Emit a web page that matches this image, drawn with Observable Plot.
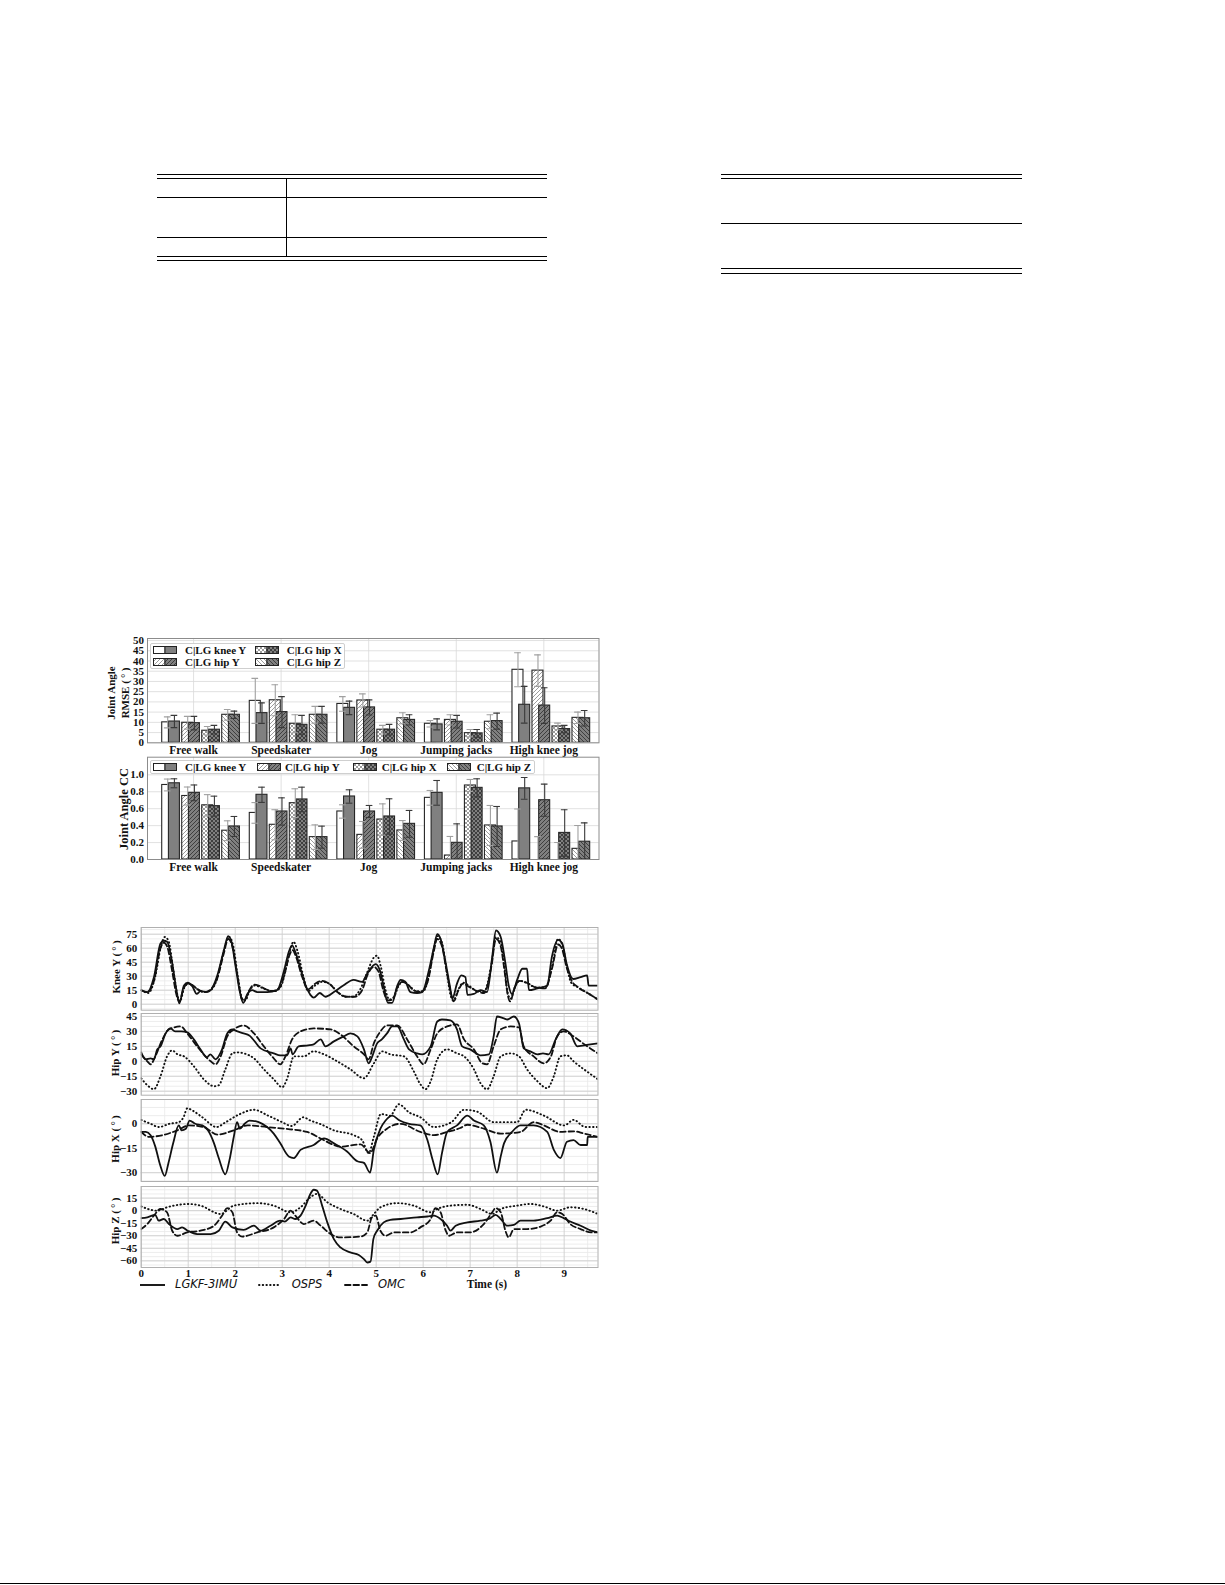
<!DOCTYPE html>
<html><head><meta charset="utf-8">
<script src="https://cdn.jsdelivr.net/npm/d3@7"></script>
<script src="https://cdn.jsdelivr.net/npm/@observablehq/plot@0.6"></script>
<style>
body{margin:0;background:#fff;}
#page{position:relative;width:1225px;height:1585px;overflow:hidden;background:#fff;font-family:'Liberation Serif',serif;}
.hl{position:absolute;height:0;border-top:1.3px solid #000;}
.vl{position:absolute;width:0;border-left:1.3px solid #000;}
.ylab{position:absolute;transform:translate(-50%,-50%) rotate(-90deg);white-space:nowrap;font-weight:bold;font-size:11px;font-family:'Liberation Serif',serif;color:#111;line-height:1;}
.leg{position:absolute;background:#fff;border:1px solid #cfcfcf;border-radius:2px;box-sizing:border-box;}
.legtxt{position:absolute;font-weight:bold;font-size:11px;white-space:nowrap;transform:translateY(-50%);line-height:1;font-family:'Liberation Serif',serif;color:#111;}
.tslegtxt{position:absolute;font-style:oblique;font-size:11.5px;white-space:nowrap;transform:translateY(-50%);line-height:1;font-family:'DejaVu Sans',sans-serif;color:#111;}
</style>
</head><body>
<svg width="0" height="0" style="position:absolute"><defs id="pdefs"></defs></svg>
<div id="page">
  <!-- table 1 -->
  <div class="hl" style="left:157px;width:390px;top:174px"></div>
  <div class="hl" style="left:157px;width:390px;top:178px"></div>
  <div class="hl" style="left:157px;width:390px;top:197px"></div>
  <div class="hl" style="left:157px;width:390px;top:237px"></div>
  <div class="hl" style="left:157px;width:390px;top:256px"></div>
  <div class="hl" style="left:157px;width:390px;top:260px"></div>
  <div class="vl" style="left:286px;top:178px;height:78px"></div>
  <!-- table 2 -->
  <div class="hl" style="left:721px;width:301px;top:174px"></div>
  <div class="hl" style="left:721px;width:301px;top:178px"></div>
  <div class="hl" style="left:721px;width:301px;top:222.5px"></div>
  <div class="hl" style="left:721px;width:301px;top:268px"></div>
  <div class="hl" style="left:721px;width:301px;top:272.5px"></div>
  <!-- page rule -->
  <div class="hl" style="left:0px;width:1225px;top:1582.5px;border-top-width:1.6px"></div>
</div>
<script>
// ---------------- DATA ----------------
const activities = ["Free walk", "Speedskater", "Jog", "Jumping jacks", "High knee jog"];
const joints = ["knee Y", "hip Y", "hip X", "hip Z"];
const legendLabels = ["C|LG knee Y", "C|LG hip Y", "C|LG hip X", "C|LG hip Z"];

// RMSE (deg), per activity: [knee Y, hip Y, hip X, hip Z]
const rmseC    = [[10.0, 9.8, 5.9, 13.7], [20.5, 20.8, 9.3, 13.7], [19.0, 20.7, 6.4, 12.0], [9.3, 11.2, 4.7, 10.3], [35.7, 35.3, 8.0, 12.2]];
const rmseCsd  = [[2.7, 3.1, 2.1, 2.6], [11.0, 7.6, 4.4, 4.1], [3.6, 3.2, 2.1, 2.7], [1.6, 2.5, 1.8, 3.4], [8.3, 7.7, 1.6, 2.8]];
const rmseLG   = [[10.4, 9.6, 6.4, 13.7], [14.5, 15.0, 8.8, 13.7], [17.1, 17.3, 6.4, 11.2], [9.0, 10.3, 4.6, 10.6], [18.6, 18.2, 6.7, 12.0]];
const rmseLGsd = [[3.0, 3.3, 2.1, 1.8], [5.0, 7.6, 4.6, 4.1], [3.3, 3.7, 2.6, 2.5], [2.7, 3.1, 1.9, 3.9], [9.0, 8.7, 1.8, 3.8]];

// Correlation coefficient
const ccC    = [[0.88, 0.75, 0.64, 0.34], [0.55, 0.41, 0.665, 0.264], [0.567, 0.291, 0.472, 0.343], [0.728, 0.047, 0.874, 0.402], [0.213, 0.0, 0.0, 0.126]];
const ccCsd  = [[0.07, 0.106, 0.126, 0.117], [0.122, 0.178, 0.17, 0.145], [0.079, 0.158, 0.185, 0.117], [0.087, 0.225, 0.071, 0.236], [0.383, 0.27, 0.2, 0.276]];
const ccLG   = [[0.90, 0.787, 0.63, 0.39], [0.764, 0.567, 0.709, 0.264], [0.744, 0.567, 0.508, 0.421], [0.787, 0.197, 0.846, 0.39], [0.84, 0.70, 0.314, 0.21]];
const ccLGsd = [[0.053, 0.093, 0.118, 0.118], [0.09, 0.161, 0.145, 0.13], [0.079, 0.071, 0.209, 0.158], [0.146, 0.224, 0.107, 0.236], [0.128, 0.19, 0.274, 0.223]];

const rmseTicks = [0, 5, 10, 15, 20, 25, 30, 35, 40, 45, 50];
const ccTicks = [0, 0.2, 0.4, 0.6, 0.8, 1.0];

// Time series [t (s), angle (deg)]
const kneeLG = [[0,15],[0.13,13],[0.27,29],[0.41,65],[0.48,68],[0.55,67],[0.66,44],[0.75,15],[0.81,1],[0.91,20],[0.99,23],[1.09,19],[1.18,11],[1.26,14],[1.4,13],[1.48,15],[1.62,31],[1.76,58],[1.85,73],[1.92,67],[2.01,40],[2.1,13],[2.17,1.4],[2.26,11],[2.36,15],[2.47,13],[2.68,13],[2.89,15],[3.04,36],[3.14,56],[3.21,63],[3.28,56],[3.39,38],[3.5,20],[3.6,10],[3.67,7],[3.8,12],[3.92,8],[4.1,13],[4.3,20],[4.52,26],[4.7,24],[4.81,33],[4.99,43],[5.08,36],[5.16,19],[5.25,1.4],[5.34,1.4],[5.45,20],[5.52,26],[5.62,24],[5.73,13],[5.87,12],[5.98,13],[6.12,36],[6.23,61],[6.3,75],[6.37,70],[6.48,44],[6.57,19],[6.62,6],[6.72,22],[6.81,31],[6.9,29],[6.94,10],[7.08,11],[7.22,15],[7.36,13],[7.47,51],[7.55,79],[7.65,72],[7.75,44],[7.82,20],[7.89,11],[8.0,26],[8.11,38],[8.21,38],[8.25,15],[8.43,17],[8.64,20],[8.74,51],[8.87,69],[8.96,65],[9.06,42],[9.19,27],[9.35,29],[9.49,31],[9.52,20],[9.72,20]];
const kneeOS = [[0,15],[0.15,12],[0.3,30],[0.42,62],[0.5,72],[0.58,68],[0.68,38],[0.77,10],[0.82,3],[0.92,18],[1.0,22],[1.1,20],[1.2,16],[1.35,13],[1.5,16],[1.62,28],[1.76,58],[1.87,72],[1.96,62],[2.05,32],[2.15,6],[2.22,4],[2.3,14],[2.42,20],[2.55,18],[2.7,15],[2.85,14],[2.98,20],[3.08,38],[3.18,60],[3.24,67],[3.32,58],[3.45,30],[3.55,14],[3.7,20],[3.85,24],[4.0,22],[4.2,12],[4.35,8],[4.5,8],[4.65,15],[4.8,33],[4.95,50],[5.02,52],[5.1,40],[5.2,15],[5.28,5],[5.38,8],[5.48,20],[5.58,24],[5.7,20],[5.85,14],[6.0,14],[6.12,30],[6.22,58],[6.3,73],[6.4,66],[6.5,35],[6.58,10],[6.64,4],[6.75,16],[6.85,23],[7.0,19],[7.15,14],[7.3,14],[7.45,42],[7.55,72],[7.65,66],[7.73,40],[7.8,12],[7.86,6],[7.95,18],[8.05,25],[8.2,23],[8.4,18],[8.6,18],[8.75,42],[8.87,70],[8.96,64],[9.06,40],[9.15,23],[9.3,18],[9.5,12],[9.72,5]];
const kneeOM = [[0,15],[0.13,13],[0.27,25],[0.41,60],[0.48,66],[0.55,62],[0.66,35],[0.75,10],[0.81,3],[0.91,18],[0.99,22],[1.1,20],[1.2,16],[1.35,13],[1.48,16],[1.62,28],[1.76,55],[1.85,70],[1.95,60],[2.05,30],[2.15,5],[2.2,5],[2.3,15],[2.4,21],[2.5,20],[2.65,16],[2.8,14],[2.95,18],[3.05,32],[3.15,52],[3.22,58],[3.3,50],[3.42,30],[3.55,16],[3.7,22],[3.85,25],[4.0,22],[4.2,12],[4.38,8],[4.55,8],[4.7,15],[4.82,32],[4.95,40],[5.05,35],[5.15,15],[5.25,4],[5.35,5],[5.45,18],[5.55,24],[5.65,22],[5.8,15],[5.95,13],[6.1,25],[6.22,55],[6.3,70],[6.4,62],[6.5,35],[6.6,10],[6.65,3],[6.75,15],[6.85,22],[7.0,18],[7.15,14],[7.3,12],[7.45,40],[7.55,70],[7.65,62],[7.72,40],[7.8,10],[7.85,3],[7.95,18],[8.05,25],[8.2,23],[8.4,18],[8.6,17],[8.75,40],[8.87,64],[8.95,60],[9.05,40],[9.15,26],[9.3,18],[9.5,12],[9.72,5]];

const hipYLG = [[0,9],[0.09,2],[0.2,3],[0.27,2],[0.34,12],[0.41,15],[0.52,28],[0.62,33],[0.72,30],[0.85,30],[0.98,29],[1.12,22],[1.26,12],[1.4,4],[1.47,7],[1.58,2],[1.72,12],[1.83,28],[1.94,32],[2.05,30],[2.18,28],[2.3,26],[2.54,13],[2.82,8],[2.96,6],[3.1,6],[3.18,13],[3.22,7],[3.35,15],[3.55,16],[3.67,17],[3.82,22],[3.92,15],[4.1,20],[4.31,25],[4.45,28],[4.6,25],[4.74,12],[4.84,-2],[4.9,3],[5.02,18],[5.12,22],[5.23,28],[5.34,35],[5.45,35],[5.59,22],[5.7,12],[5.87,8],[5.98,7],[6.16,15],[6.3,40],[6.4,42],[6.58,41],[6.72,32],[6.83,15],[7.0,12],[7.22,6],[7.4,7],[7.5,25],[7.57,45],[7.72,43],[7.79,42],[7.93,45],[8.04,38],[8.14,13],[8.28,10],[8.43,7],[8.55,8],[8.67,7],[8.82,22],[8.96,32],[9.13,28],[9.28,15],[9.56,17],[9.72,18]];
const hipYOS = [[0,-17],[0.13,-24],[0.27,-28],[0.41,-15],[0.55,5],[0.66,11],[0.77,7],[0.91,5],[1.12,-5],[1.33,-18],[1.55,-25],[1.65,-24],[1.79,-8],[1.94,8],[2.04,9],[2.18,8],[2.4,3],[2.61,-8],[2.82,-18],[3.0,-26],[3.1,-18],[3.25,5],[3.46,5],[3.67,10],[3.89,7],[4.17,0],[4.45,-8],[4.74,-17],[4.95,-2],[5.13,10],[5.3,7],[5.59,5],[5.8,-10],[5.94,-23],[6.05,-28],[6.16,-20],[6.3,2],[6.51,12],[6.72,8],[6.87,5],[7.08,-8],[7.22,-22],[7.36,-28],[7.5,-15],[7.65,5],[7.86,8],[8.04,5],[8.21,-8],[8.43,-20],[8.64,-27],[8.78,-15],[8.92,5],[9.06,6],[9.2,0],[9.42,-8],[9.72,-18]];
const hipYOM = [[0,7],[0.13,0],[0.2,-3],[0.3,5],[0.45,22],[0.59,32],[0.84,35],[0.98,28],[1.19,15],[1.48,0],[1.58,-3],[1.69,5],[1.83,25],[1.97,32],[2.18,36],[2.4,28],[2.61,15],[2.82,3],[2.96,-3],[3.07,5],[3.21,22],[3.39,30],[3.67,33],[4.03,32],[4.24,27],[4.52,15],[4.74,7],[4.84,2],[4.95,18],[5.09,30],[5.23,36],[5.45,36],[5.66,22],[5.87,5],[6.01,-3],[6.16,12],[6.3,28],[6.51,35],[6.72,37],[6.87,22],[7.08,12],[7.26,-2],[7.36,-3],[7.5,15],[7.65,32],[7.86,35],[8.04,34],[8.14,15],[8.35,5],[8.57,-2],[8.72,5],[8.85,25],[8.99,30],[9.2,25],[9.49,15],[9.72,8]];

const hipXLG = [[0,-5],[0.1,-5],[0.2,-7],[0.3,-14],[0.4,-25],[0.5,-32],[0.58,-24],[0.68,-12],[0.8,-1],[0.86,-4],[0.95,-3],[1.03,2],[1.15,0],[1.3,-1],[1.42,-4],[1.55,-12],[1.65,-21],[1.79,-31],[1.88,-22],[1.97,-8],[2.04,1],[2.1,-3],[2.2,0],[2.3,2],[2.5,1],[2.68,-2],[2.82,-6],[2.96,-12],[3.14,-20],[3.25,-21],[3.39,-16],[3.67,-13],[3.89,-9],[4.1,-12],[4.38,-17],[4.6,-23],[4.74,-24],[4.87,-30],[4.95,-16],[5.09,-3],[5.2,2],[5.34,5],[5.5,2],[5.7,0],[5.94,-1],[6.09,-10],[6.2,-22],[6.31,-31],[6.4,-18],[6.51,-5],[6.72,-1],[6.94,5],[7.08,2],[7.29,-1],[7.43,-11],[7.57,-30],[7.65,-20],[7.72,-12],[7.89,-5],[8.07,-1],[8.35,-1],[8.64,-5],[8.78,-16],[8.92,-21],[9.06,-11],[9.2,-10],[9.35,-13],[9.49,-13],[9.5,-8],[9.72,-8]];
const hipXOS = [[0,2.4],[0.2,0],[0.38,-2],[0.6,0],[0.8,1],[0.9,4],[0.98,9.5],[1.1,8],[1.3,4],[1.6,-2],[1.8,1],[2.1,6],[2.4,8.6],[2.7,5],[3.0,1],[3.2,-1.4],[3.45,4],[3.6,2],[3.8,0],[4.1,-4],[4.52,-7],[4.7,-10],[4.84,-18],[4.95,-8],[5.1,6],[5.3,5],[5.48,12],[5.7,7],[5.94,4],[6.23,-2],[6.6,1],[6.87,8.6],[7.15,7.4],[7.5,1],[8.0,1],[8.18,8.6],[8.57,5],[9.0,-1],[9.2,2.4],[9.45,-2],[9.72,-2]];
const hipXOM = [[0,-5],[0.16,-8],[0.45,-7],[0.77,-4],[1.01,-1],[1.33,-2],[1.62,-6.6],[1.97,-4],[2.26,-1],[2.68,-2],[3.04,-3],[3.53,-5],[3.82,-9],[4.1,-13],[4.24,-14],[4.67,-12.6],[4.87,-18],[5.02,-9],[5.23,-3],[5.52,0],[5.94,-5],[6.23,-7],[6.51,-5],[6.79,-2.6],[6.94,-0.6],[7.29,-3],[7.65,-6],[8.07,-5],[8.35,1],[8.57,-1],[8.92,-5],[9.2,-4.6],[9.42,-6],[9.72,-8]];

const hipZLG = [[0,-9],[0.13,-8],[0.3,-5],[0.37,-12],[0.48,-10],[0.59,-16],[0.77,-22],[0.87,-20],[0.99,-24],[1.19,-28],[1.48,-28],[1.65,-24],[1.79,-13],[1.94,-20],[2.18,-23],[2.4,-18],[2.54,-24],[2.75,-18],[2.96,-12],[3.06,-13],[3.18,-8],[3.28,-10],[3.39,-6],[3.5,6],[3.6,20],[3.67,25],[3.74,24],[3.85,6],[3.96,-14],[4.1,-34],[4.24,-44],[4.45,-50],[4.63,-53],[4.74,-58],[4.81,-62],[4.88,-61],[4.94,-34],[5.02,-24],[5.16,-14],[5.3,-11],[5.52,-10],[5.87,-8],[6.09,-7],[6.23,-6],[6.37,-10],[6.51,-18],[6.58,-24],[6.69,-18],[6.94,-14],[7.22,-12],[7.43,-9],[7.54,-5],[7.65,-10],[7.79,-18],[7.93,-17],[8.07,-12],[8.35,-12],[8.64,-9],[8.85,-6],[8.99,-9],[9.13,-13],[9.35,-18],[9.57,-24],[9.72,-26]];
const hipZOS = [[0,5],[0.34,0],[0.55,4],[1.01,8],[1.26,6],[1.69,-4],[1.97,6],[2.47,9],[2.82,6],[3.18,-2],[3.39,4],[3.6,16],[3.74,20],[3.96,10],[4.24,2],[4.52,-4],[4.81,-12],[4.95,-4],[5.09,4],[5.45,9],[5.8,6],[6.16,-2],[6.3,2],[6.58,6],[6.94,7],[7.22,2],[7.47,-4],[7.65,2],[8.0,6],[8.28,8],[8.57,5],[8.85,0],[9.13,4],[9.42,2],[9.72,-4]];
const hipZOM = [[0,-22],[0.13,-16],[0.27,-6],[0.41,2],[0.55,-2],[0.66,-24],[0.77,-30],[0.98,-26],[1.26,-24],[1.55,-18],[1.72,-6],[1.83,3],[1.94,-2],[2.04,-26],[2.15,-31],[2.47,-26],[2.82,-20],[3.04,-10],[3.18,0],[3.28,-6],[3.46,-16],[3.67,-12],[3.82,-18],[4.03,-28],[4.24,-32],[4.67,-31],[4.81,-26],[4.91,-8],[4.99,-6],[5.09,-24],[5.2,-30],[5.38,-26],[5.73,-26],[5.94,-20],[6.16,-10],[6.26,3],[6.37,-2],[6.48,-24],[6.55,-30],[6.72,-26],[7.0,-26],[7.29,-16],[7.47,-2],[7.54,3],[7.65,-2],[7.75,-24],[7.82,-32],[7.93,-22],[8.21,-22],[8.5,-19],[8.71,-12],[8.85,-2],[8.96,-4],[9.13,-16],[9.35,-22],[9.57,-26],[9.72,-26]];

const timeTicks = [0, 1, 2, 3, 4, 5, 6, 7, 8, 9];

// ---------------- PATTERNS ----------------
const hatchF = "M-1,1 l2,-2 M0,4 l4,-4 M3,5 l2,-2";
const hatchB = "M-1,3 l2,2 M0,0 l4,4 M3,-1 l2,2";
const jointHatch = [null, hatchF, hatchF + " " + hatchB, hatchB];
const kindStyle = {C: {bg: "#ffffff", line: "#8a8a8a", plain: "#ffffff"}, LG: {bg: "#808080", line: "#333333", plain: "#808080"}};
let defs = "";
for (const kind of ["C", "LG"]) {
  jointHatch.forEach((h, k) => {
    if (!h) return;
    defs += `<pattern id="p${kind}${k}" patternUnits="userSpaceOnUse" width="4" height="4"><rect width="4" height="4" fill="${kindStyle[kind].bg}"/><path d="${h}" stroke="${kindStyle[kind].line}" stroke-width="0.85" fill="none"/></pattern>`;
  });
}
document.getElementById("pdefs").innerHTML = defs;
const fillOf = (kind, k) => jointHatch[k] ? `url(#p${kind}${k})` : kindStyle[kind].plain;

// ---------------- HELPERS ----------------
const page = document.getElementById("page");
function place(node, left, top) {
  const d = document.createElement("div");
  d.style.cssText = `position:absolute;left:${left}px;top:${top}px;width:500px;`;
  d.appendChild(node);
  page.appendChild(d);
}
function addDiv(cls, html, css) {
  const d = document.createElement("div");
  d.className = cls;
  d.innerHTML = html;
  d.style.cssText = css;
  page.appendChild(d);
  return d;
}
const serifStyle = (size) => ({fontFamily: "'Liberation Serif', serif", fontSize: size, fontWeight: "bold", color: "#111", background: "transparent", overflow: "visible"});

// ---------------- BAR PANELS ----------------
const BW = 0.1256, OFF = -0.358, STEP = 0.2284, LGSHIFT = 0.0765, CAP = 0.038;
function barRows(cArr, cSd, lgArr, lgSd) {
  const rows = [];
  activities.forEach((a, i) => joints.forEach((j, k) => {
    const x1 = i + OFF + k * STEP;
    rows.push({kind: "C", joint: k, x1, x2: x1 + BW, xc: x1 + BW / 2, v: cArr[i][k], sd: cSd[i][k]});
    const l1 = x1 + LGSHIFT;
    rows.push({kind: "LG", joint: k, x1: l1, x2: l1 + BW, xc: l1 + BW / 2, v: lgArr[i][k], sd: lgSd[i][k]});
  }));
  return rows;
}
function barPanel({rows, top, mt, bottom, domain, ticks, fmt}) {
  const mb = 17;
  const marks = [
    Plot.ruleY(ticks, {stroke: "#d9d9d9", strokeWidth: 0.8}),
    Plot.ruleX([0, 1, 2, 3, 4], {stroke: "#d9d9d9", strokeWidth: 0.8})
  ];
  joints.forEach((_, k) => {
    for (const kind of ["C", "LG"]) {
      marks.push(Plot.rectY(rows.filter(r => r.kind === kind && r.joint === k), {
        x1: "x1", x2: "x2", y1: 0, y2: "v", fill: fillOf(kind, k), stroke: "#262626", strokeWidth: 1.1, clip: true
      }));
    }
  });
  for (const [kind, col] of [["C", "#a0a0a0"], ["LG", "#3a3a3a"]]) {
    const r = rows.filter(d => d.kind === kind);
    marks.push(Plot.ruleX(r, {x: "xc", y1: d => Math.max(0, d.v - d.sd), y2: d => d.v + d.sd, stroke: col, strokeWidth: 1.1, clip: true}));
    marks.push(Plot.ruleY(r, {y: d => d.v + d.sd, x1: d => d.xc - CAP, x2: d => d.xc + CAP, stroke: col, strokeWidth: 1.1, clip: true}));
    marks.push(Plot.ruleY(r.filter(d => d.v - d.sd > 0), {y: d => d.v - d.sd, x1: d => d.xc - CAP, x2: d => d.xc + CAP, stroke: col, strokeWidth: 1.1, clip: true}));
  }
  marks.push(Plot.frame({stroke: "#8c8c8c", strokeWidth: 1}));
  marks.push(Plot.axisY(ticks, {tickSize: 0, tickPadding: 3.5, label: null, tickFormat: fmt, fontSize: 11}));
  marks.push(Plot.axisX([0, 1, 2, 3, 4], {tickSize: 0, tickPadding: 3, label: null, tickFormat: i => activities[i], fontSize: 11.5}));
  const svg = Plot.plot({
    width: 500, height: bottom - top + mb,
    marginLeft: 47, marginRight: 1.5, marginTop: mt, marginBottom: mb,
    x: {domain: [-0.526, 4.63]},
    y: {domain},
    style: serifStyle("11px"),
    marks
  });
  place(svg, 100, top);
}

barPanel({rows: barRows(rmseC, rmseCsd, rmseLG, rmseLGsd), top: 630, mt: 8, bottom: 742.3, domain: [0, 51], ticks: rmseTicks, fmt: d3.format("d")});
barPanel({rows: barRows(ccC, ccCsd, ccLG, ccLGsd), top: 749, mt: 7.7, bottom: 859, domain: [0, 1.208], ticks: ccTicks, fmt: d3.format(".1f")});

// bar legends
function patchSvg(k) {
  return `<svg width="24" height="8" style="display:block"><rect x="0.5" y="0.5" width="11.5" height="7" fill="${fillOf("C", k)}" stroke="#222" stroke-width="1"/><rect x="12" y="0.5" width="11.5" height="7" fill="${fillOf("LG", k)}" stroke="#222" stroke-width="1"/></svg>`;
}
function legendItem(k, px, yc, tx) {
  addDiv("", patchSvg(k), `position:absolute;left:${px}px;top:${yc - 4}px;`);
  addDiv("legtxt", legendLabels[k], `left:${tx}px;top:${yc}px;`);
}
addDiv("leg", "", "left:150px;top:643px;width:195px;height:25.5px;");
legendItem(0, 153, 650, 185);
legendItem(1, 153, 661.7, 185);
legendItem(2, 255, 650, 286.7);
legendItem(3, 255, 661.7, 286.7);

addDiv("leg", "", "left:150px;top:759.5px;width:385px;height:14.5px;");
legendItem(0, 153, 766.7, 185);
legendItem(1, 256.7, 766.7, 285);
legendItem(2, 353.3, 766.7, 381.7);
legendItem(3, 446.7, 766.7, 476.7);

addDiv("ylab", "Joint Angle", "left:111.2px;top:693px;");
addDiv("ylab", "RMSE (&#8201;&#176;&#8201;)", "left:124.5px;top:693px;");
addDiv("ylab", "Joint Angle CC", "left:123.5px;top:809px;font-size:12.5px;");

// ---------------- TIME SERIES PANELS ----------------
function tsPanel({top, bottom, domain, ticks, minor, lg, os, om, xAxis}) {
  const mt = 8, mb = xAxis ? 18 : 2;
  const marks = [
    Plot.ruleX(d3.range(0.5, 9.72, 1), {stroke: "#e8e8e8", strokeWidth: 0.8}),
    Plot.ruleY(minor, {stroke: "#e8e8e8", strokeWidth: 0.8}),
    Plot.ruleX(timeTicks, {stroke: "#cfcfcf", strokeWidth: 0.9}),
    Plot.ruleY(ticks, {stroke: "#cfcfcf", strokeWidth: 0.9}),
    Plot.line(om, {x: d => d[0], y: d => d[1], curve: "monotone-x", stroke: "#111", strokeWidth: 1.8, strokeDasharray: "5.5,3", clip: true}),
    Plot.line(os, {x: d => d[0], y: d => d[1], curve: "monotone-x", stroke: "#111", strokeWidth: 1.9, strokeDasharray: "0.5,3.2", strokeLinecap: "round", clip: true}),
    Plot.line(lg, {x: d => d[0], y: d => d[1], curve: "monotone-x", stroke: "#111", strokeWidth: 1.8, clip: true}),
    Plot.frame({stroke: "#b0b0b0", strokeWidth: 1}),
    Plot.axisY(ticks, {tickSize: 0, tickPadding: 4, label: null})
  ];
  if (xAxis) marks.push(Plot.axisX(timeTicks, {tickSize: 0, tickPadding: 1.5, label: null}));
  const svg = Plot.plot({
    width: 500, height: bottom - top + mt + mb,
    marginLeft: 40.7, marginRight: 2.5, marginTop: mt, marginBottom: mb,
    x: {domain: [0, 9.72], axis: xAxis ? undefined : null},
    y: {domain},
    style: serifStyle("11px"),
    marks
  });
  place(svg, 100, top - mt);
}
tsPanel({top: 927.3, bottom: 1010, domain: [-6.4, 82.2], ticks: [0, 15, 30, 45, 60, 75], minor: d3.range(-5, 82, 5), lg: kneeLG, os: kneeOS, om: kneeOM});
tsPanel({top: 1013.3, bottom: 1095, domain: [-34, 48], ticks: [-30, -15, 0, 15, 30, 45], minor: d3.range(-30, 48, 5), lg: hipYLG, os: hipYOS, om: hipYOM});
tsPanel({top: 1099, bottom: 1181, domain: [-35.4, 14.9], ticks: [-30, -15, 0], minor: d3.range(-35, 15, 5), lg: hipXLG, os: hipXOS, om: hipXOM});
tsPanel({top: 1185.7, bottom: 1266.7, domain: [-68, 28.9], ticks: [-60, -45, -30, -15, 0, 15], minor: d3.range(-65, 29, 5), lg: hipZLG, os: hipZOS, om: hipZOM, xAxis: true});

addDiv("ylab", "Knee Y (&#8201;&#176;&#8201;)", "left:116px;top:967px;");
addDiv("ylab", "Hip Y (&#8201;&#176;&#8201;)", "left:115px;top:1053px;");
addDiv("ylab", "Hip X (&#8201;&#176;&#8201;)", "left:115px;top:1139px;");
addDiv("ylab", "Hip Z (&#8201;&#176;&#8201;)", "left:115px;top:1221px;");

// time series legend
const legY = 1284.5;
const seriesNames = ["LGKF-3IMU", "OSPS", "OMC"];
const sampleDash = [null, "0.5,3.2", "5.5,3"];
const sampleX = [[140, 165, 175], [259, 281, 291.7], [345, 367, 378]];
seriesNames.forEach((name, i) => {
  const [x1, x2, tx] = sampleX[i];
  addDiv("", `<svg width="${x2 - x1 + 2}" height="6" style="display:block;overflow:visible"><line x1="1" x2="${x2 - x1 + 1}" y1="3" y2="3" stroke="#111" stroke-width="1.9" ${sampleDash[i] ? `stroke-dasharray="${sampleDash[i]}" stroke-linecap="round"` : ""}/></svg>`, `position:absolute;left:${x1 - 1}px;top:${legY - 3}px;`);
  addDiv("tslegtxt", name, `left:${tx}px;top:${legY}px;`);
});
addDiv("legtxt", "Time (s)", `left:466.7px;top:${legY}px;font-size:11.5px;`);
</script>
</body></html>
